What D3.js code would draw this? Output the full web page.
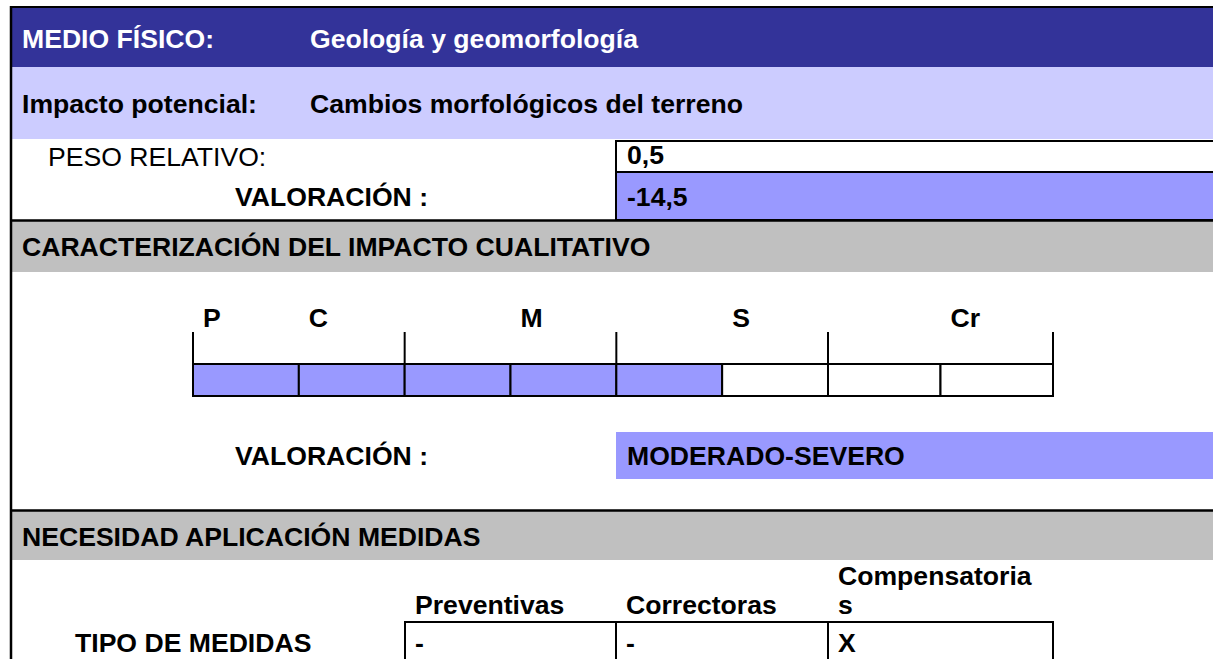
<!DOCTYPE html>
<html>
<head>
<meta charset="utf-8">
<script src="https://cdn.jsdelivr.net/npm/d3@7"></script>
<style>
  html, body { margin: 0; padding: 0; background: #fff; }
  svg { display: block; }
  text { font-family: "Liberation Sans", Arial, sans-serif; }
</style>
</head>
<body>
<svg id="chart" width="1213" height="659"></svg>
<script>
// ---- data ----
const headerLabels = ["MEDIO FÍSICO:", "Impacto potencial:"];
const headerValues = ["Geología y geomorfología", "Cambios morfológicos del terreno"];
const pesoRelativo = "0,5";
const valoracion = "-14,5";
const sectionTitles = ["CARACTERIZACIÓN DEL IMPACTO CUALITATIVO", "NECESIDAD APLICACIÓN MEDIDAS"];
const scaleLabels = ["P", "C", "M", "S", "Cr"];
const scaleLabelCells = [0, 1, 3, 5, 7];
const scaleTicks = [0, 2, 4, 6, 8];
const cellCount = 8;
const filledCells = 5;
const valoracionCualitativa = "MODERADO-SEVERO";
const medidasTipos = ["Preventivas", "Correctoras", "Compensatoria|s"];
const medidasValores = ["-", "-", "X"];

// ---- drawing ----
const svg = d3.select("#chart");
const W = 1213;
const DARK = "#333399", LAV = "#CCCCFF", MID = "#9999FF", GRAY = "#C0C0C0";
const FS = 26.6;

// background bands
svg.append("rect").attr("x", 11).attr("y", 7).attr("width", W - 11).attr("height", 60).attr("fill", DARK);
svg.append("rect").attr("x", 11).attr("y", 67).attr("width", W - 11).attr("height", 72).attr("fill", LAV);
svg.append("rect").attr("x", 11).attr("y", 221).attr("width", W - 11).attr("height", 51).attr("fill", GRAY);
svg.append("rect").attr("x", 11).attr("y", 511).attr("width", W - 11).attr("height", 49).attr("fill", GRAY);

// header texts
const hdrY = [47.5, 113];
headerLabels.forEach((t, i) => {
  svg.append("text").attr("x", 22).attr("y", hdrY[i]).attr("font-size", FS).attr("font-weight", "bold")
    .attr("fill", i === 0 ? "#fff" : "#000").text(t);
  svg.append("text").attr("x", 310).attr("y", hdrY[i]).attr("font-size", FS).attr("font-weight", "bold")
    .attr("fill", i === 0 ? "#fff" : "#000").text(headerValues[i]);
});

// peso relativo / valoración
svg.append("text").attr("x", 48).attr("y", 166).attr("font-size", FS).text("PESO RELATIVO:");
svg.append("text").attr("x", 235).attr("y", 206).attr("font-size", FS).attr("font-weight", "bold").text("VALORACIÓN :");
svg.append("rect").attr("x", 616).attr("y", 141).attr("width", W - 616 + 2).attr("height", 31)
  .attr("fill", "#fff").attr("stroke", "#000").attr("stroke-width", 2);
svg.append("rect").attr("x", 616).attr("y", 172).attr("width", W - 616 + 2).attr("height", 48)
  .attr("fill", MID).attr("stroke", "#000").attr("stroke-width", 2);
svg.append("text").attr("x", 627).attr("y", 164).attr("font-size", FS).attr("font-weight", "bold").text(pesoRelativo);
svg.append("text").attr("x", 627).attr("y", 206).attr("font-size", FS).attr("font-weight", "bold").text(valoracion);

// section separators
[220.5, 510.5].forEach(y => {
  svg.append("line").attr("x1", 11).attr("x2", W).attr("y1", y).attr("y2", y)
    .attr("stroke", "#000").attr("stroke-width", 2.5);
});
svg.append("text").attr("x", 22).attr("y", 256).attr("font-size", FS).attr("font-weight", "bold").text(sectionTitles[0]);
svg.append("text").attr("x", 22).attr("y", 546).attr("font-size", FS).attr("font-weight", "bold").text(sectionTitles[1]);

// qualitative scale
const x = d3.scaleLinear().domain([0, 6, 8]).range([193, 828, 1053]);
const cellTop = 364, cellBot = 396, tickTop = 332;
const cells = d3.range(cellCount);
svg.append("g").selectAll("rect").data(cells).join("rect")
  .attr("x", d => x(d)).attr("y", cellTop)
  .attr("width", d => x(d + 1) - x(d)).attr("height", cellBot - cellTop)
  .attr("fill", d => d < filledCells ? MID : "#fff")
  .attr("stroke", "#000").attr("stroke-width", 2);
svg.append("g").selectAll("line").data(scaleTicks).join("line")
  .attr("x1", d => x(d)).attr("x2", d => x(d)).attr("y1", tickTop).attr("y2", cellTop)
  .attr("stroke", "#000").attr("stroke-width", 2);
svg.append("g").selectAll("text").data(scaleLabels).join("text")
  .attr("x", (d, i) => x(scaleLabelCells[i]) + 10).attr("y", 327)
  .attr("font-size", FS).attr("font-weight", "bold").text(d => d);

// valoración cualitativa
svg.append("text").attr("x", 235).attr("y", 465).attr("font-size", FS).attr("font-weight", "bold").text("VALORACIÓN :");
svg.append("rect").attr("x", 616).attr("y", 432).attr("width", W - 616).attr("height", 47).attr("fill", MID);
svg.append("text").attr("x", 627).attr("y", 465).attr("font-size", FS).attr("font-weight", "bold").text(valoracionCualitativa);

// tipo de medidas
const mx = d3.scaleOrdinal().domain(d3.range(3)).range([405, 616, 828]);
const mEnd = 1053;
svg.append("text").attr("x", 75).attr("y", 652).attr("font-size", FS).attr("font-weight", "bold").text("TIPO DE MEDIDAS");
medidasTipos.forEach((t, i) => {
  const parts = t.split("|");
  const x0 = mx(i);
  const x1 = i < 2 ? mx(i + 1) : mEnd;
  svg.append("rect").attr("x", x0).attr("y", 622).attr("width", x1 - x0).attr("height", 60)
    .attr("fill", "#fff").attr("stroke", "#000").attr("stroke-width", 2);
  parts.forEach((p, j) => {
    svg.append("text").attr("x", x0 + 10).attr("y", 614 - (parts.length - 1 - j) * 29)
      .attr("font-size", FS).attr("font-weight", "bold").text(p);
  });
  svg.append("text").attr("x", x0 + 10).attr("y", 652).attr("font-size", FS).attr("font-weight", "bold").text(medidasValores[i]);
});

// outer border (left + top)
svg.append("line").attr("x1", 11).attr("x2", 11).attr("y1", 6).attr("y2", 659).attr("stroke", "#000").attr("stroke-width", 2.5);
svg.append("line").attr("x1", 10).attr("x2", W).attr("y1", 7).attr("y2", 7).attr("stroke", "#000").attr("stroke-width", 2);
</script>
</body>
</html>
